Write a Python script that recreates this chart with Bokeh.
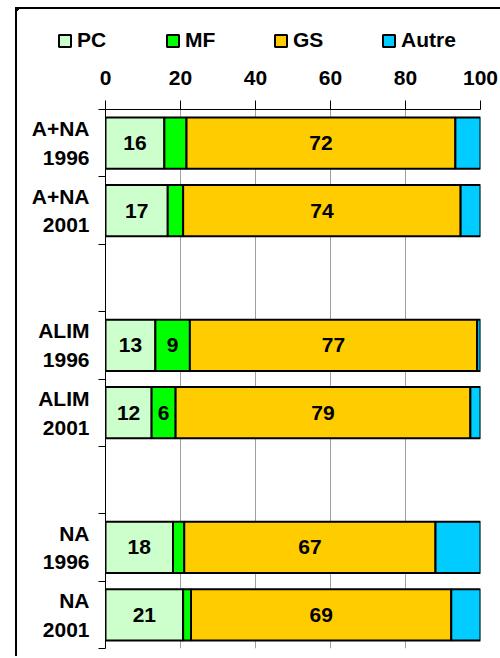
import numpy as np
from bokeh.plotting import figure
from bokeh.layouts import row, column
from bokeh.models import ColumnDataSource, FixedTicker, Range1d, Legend, LegendItem, Spacer
from bokeh.embed import file_html
from bokeh.resources import INLINE
from bokeh.core.properties import value

# ---- data ----
slots = ["A+NA\n1996", "A+NA\n2001", "", "ALIM\n1996", "ALIM\n2001", "", "NA\n1996", "NA\n2001"]
groups = ["A+NA\n1996", "A+NA\n2001", "ALIM\n1996", "ALIM\n2001", "NA\n1996", "NA\n2001"]
series = ["PC", "MF", "GS", "Autre"]
pc = [15.7, 16.6, 13.3, 12.3, 18.0, 20.7]
mf = [5.9, 4.1, 9.2, 6.4, 3.0, 2.1]
gs = [71.7, 74.0, 76.6, 78.6, 67.0, 69.4]
autre = [6.7, 5.3, 0.9, 2.7, 12.0, 7.8]
show_label = {
    "PC": [True, True, True, True, True, True],
    "MF": [False, False, True, True, False, False],
    "GS": [True, True, True, True, True, True],
    "Autre": [False, False, False, False, False, False],
}
x_ticks = [0, 20, 40, 60, 80, 100]
colors = ["#CCFFCC", "#00FF00", "#FFCC00", "#00CCFF"]

FONT = "Liberation Sans"
FS = "21px"

values = {"PC": pc, "MF": mf, "GS": gs, "Autre": autre}
ypos = [slots.index(g) + 0.5 for g in groups]

CW = 483            # content width
LH = 55             # legend strip height
H = 592             # chart height
BL, BR, BT, BB = 88, 20, 45, 8

p = figure(width=CW, height=H,
           x_range=Range1d(0, 100), y_range=Range1d(len(slots), 0),
           x_axis_location="above",
           output_backend="svg", toolbar_location=None,
           min_border_left=BL, min_border_right=BR,
           min_border_top=BT, min_border_bottom=BB,
           outline_line_color=None, frame_align=False)

# legend strip: shares the bar sources; its ranges lie away from all bars
leg_fig = figure(width=CW, height=LH, x_range=Range1d(1000, 1001), y_range=Range1d(-21, -20),
                 x_axis_location=None, y_axis_location=None,
                 output_backend="svg", toolbar_location=None,
                 min_border=0, min_border_left=0, min_border_right=0,
                 min_border_top=0, min_border_bottom=0,
                 outline_line_color=None, frame_align=False)
leg_fig.grid.visible = False

left = np.zeros(len(groups))
items = []
for name, col in zip(series, colors):
    vals = np.array(values[name], dtype=float)
    right = left + vals
    src = ColumnDataSource(dict(y=ypos, left=left, right=right))
    p.hbar(y="y", left="left", right="right", height=0.76, source=src,
           fill_color=col, line_color="black", line_width=2)
    lr = leg_fig.hbar(y="y", left="left", right="right", height=0.76, source=src,
                      fill_color=col, line_color="black", line_width=2)
    items.append(LegendItem(label=name, renderers=[lr]))
    mids = (left + right) / 2
    mask = show_label[name]
    lx = [m for m, s in zip(mids, mask) if s]
    ly = [y for y, s in zip(ypos, mask) if s]
    lt = [str(int(round(v))) for v, s in zip(vals, mask) if s]
    if lt:
        p.text(x=lx, y=ly, text=lt, text_align="center", text_baseline="middle",
               text_font=value(FONT), text_font_style="bold", text_font_size=FS,
               text_color="black")
    left = right

# x axis (top)
xa = p.xaxis[0]
xa.ticker = FixedTicker(ticks=x_ticks)
xa.major_tick_out = 9
xa.major_tick_in = 0
xa.minor_tick_out = 0
xa.minor_tick_in = 0
xa.axis_line_color = "black"
xa.major_tick_line_color = "black"
xa.major_label_text_font = FONT
xa.major_label_text_font_style = "bold"
xa.major_label_text_font_size = FS
xa.major_label_text_color = "black"
xa.major_label_standoff = 16

# y axis (left)
ya = p.yaxis[0]
centers = [i + 0.5 for i, s in enumerate(slots) if s]
ya.ticker = FixedTicker(ticks=centers, minor_ticks=list(range(len(slots) + 1)))
ya.major_label_overrides = {i + 0.5: s for i, s in enumerate(slots) if s}
ya.major_tick_out = 0
ya.major_tick_in = 0
ya.minor_tick_out = 7
ya.minor_tick_in = 0
ya.minor_tick_line_color = "black"
ya.axis_line_color = "black"
ya.major_label_text_font = FONT
ya.major_label_text_font_style = "bold"
ya.major_label_text_font_size = FS
ya.major_label_text_color = "black"
ya.major_label_text_line_height = 1.25
ya.major_label_text_align = "center"
ya.major_label_standoff = 9

p.xgrid.ticker = FixedTicker(ticks=x_ticks)
p.xgrid.grid_line_color = "#A0A0A0"
p.xgrid.grid_line_width = 1
p.ygrid.grid_line_color = None

legend = Legend(items=items, orientation="horizontal",
                label_text_font=FONT, label_text_font_style="bold",
                label_text_font_size=FS, label_text_color="black",
                glyph_width=15, glyph_height=15, label_standoff=5,
                label_width=80, spacing=8, padding=0, margin=0,
                border_line_color=None, background_fill_alpha=0,
                location=(40, 12))
leg_fig.add_layout(legend)

black = {"background-color": "black"}
hline = Spacer(width=CW + 2, height=2, styles=black)
vline = Spacer(width=2, height=LH + H, styles=black)
content = column(hline, row(vline, column(leg_fig, p, spacing=0), spacing=0), spacing=0)
lay = column(Spacer(width=10, height=7),
             row(Spacer(width=15, height=10), content, spacing=0), spacing=0)
open("out.html", "w").write(file_html(lay, INLINE))
